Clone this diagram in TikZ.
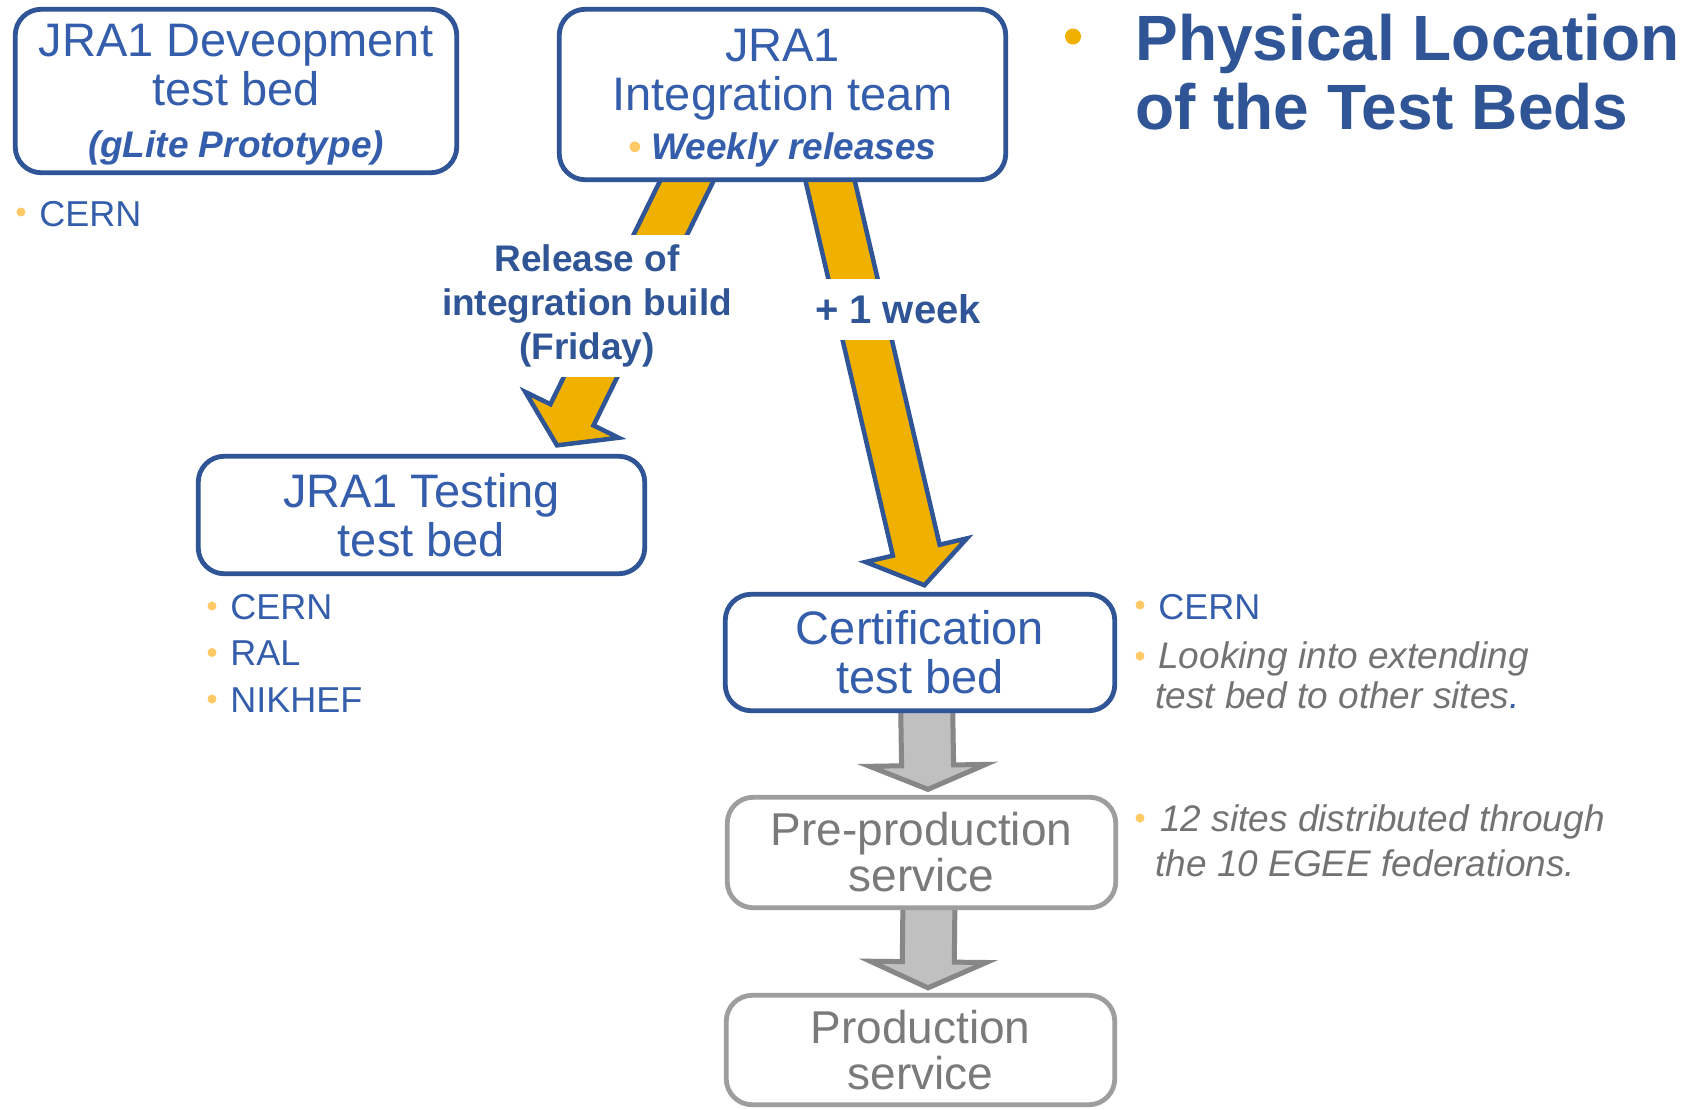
\documentclass[tikz,border=0pt]{standalone}
\usepackage{fontspec}
\setmainfont{Liberation Sans}
\usetikzlibrary{calc,backgrounds}

\definecolor{jraBlue}{RGB}{47,85,151}
\definecolor{jraText}{RGB}{52,94,172}
\definecolor{relOrange}{RGB}{240,176,0}
\definecolor{bulOrange}{RGB}{255,201,102}
\definecolor{svcGray}{RGB}{158,158,158}
\definecolor{svcText}{RGB}{122,122,122}
\definecolor{noteGray}{RGB}{115,115,115}
\definecolor{flowGray}{RGB}{135,135,135}
\definecolor{flowFill}{RGB}{192,192,192}

\newcommand\bul{{\color{bulOrange}\textbullet}\hspace{5pt}}
% block arrow: [style]{from}{tip}{shaft half width}{head half width}{head length}
\newcommand\blockarrow[6][]{%
\coordinate (headbase) at ($(#3)!#6!(#2)$);
\draw[#1] ($(#2)!#4!90:(#3)$) -- ($(headbase)!#4!-90:(#2)$) -- ($(headbase)!#5!-90:(#2)$) -- (#3)
  -- ($(headbase)!#5!90:(#2)$) -- ($(headbase)!#4!90:(#2)$) -- ($(#2)!#4!-90:(#3)$) -- cycle;
}

\tikzset{
bed/.style={draw=jraBlue,line width=2.4pt,rounded corners=13pt,fill=white,text=jraText,
  align=center,inner sep=0pt,font=\fontsize{23.5}{24.5}\selectfont},
svc/.style={bed,draw=svcGray,text=svcText,font=\fontsize{23}{23}\selectfont},
item/.style={anchor=base west,inner sep=0pt,text=jraText,font=\fontsize{18}{22}\selectfont},
note/.style={item,text=noteGray,font=\fontsize{18.5}{22}\selectfont\itshape},
tag/.style={fill=white,text=jraBlue,align=center,inner sep=0pt,
  font=\fontsize{18.5}{22}\selectfont\bfseries},
relarrow/.style={draw=jraBlue,fill=relOrange,line width=2.25pt,line join=miter},
flowarrow/.style={draw=flowGray,fill=flowFill,line width=2.5pt,line join=miter}
}

\begin{document}
\begin{tikzpicture}[x=0.5pt,y=-0.5pt]
\useasboundingbox(0,0)rectangle(1686,1109);
% title
\fill[relOrange](1073,36.5)circle[radius=8];
\node[anchor=base west,inner sep=0pt,align=left,text=jraBlue,
  font=\fontsize{32}{34.75}\selectfont\bfseries] (title) at (1135,129.5) {Physical Location\\of the Test Beds};
% test beds
\node[bed,minimum width=220.75pt,minimum height=81.75pt,text depth=0pt] (dev) at (236,91)
  {JRA1 Deveopment\\test bed\\[1.5pt]{\fontsize{18.5}{18.5}\selectfont\bfseries\itshape (gLite Prototype)}};
\node[bed,minimum width=223.25pt,minimum height=85.25pt,text depth=0pt] (integ) at (782.5,94.5)
  {JRA1\\Integration team\\{\fontsize{18.5}{18.5}\selectfont\bfseries\itshape\bul Weekly releases}};
\node[bed,minimum width=223.25pt,minimum height=58.75pt] (testing) at (421.5,515) {JRA1 Testing\\test bed};
\node[bed,minimum width=194.75pt,minimum height=58.25pt] (cert) at (920,652.5) {Certification\\test bed};
\node[svc,minimum width=194.25pt,minimum height=55.25pt] (preprod) at (921.5,852.5) {Pre-production\\service};
\node[svc,minimum width=194.25pt,minimum height=54.75pt] (prod) at (920.5,1050) {Production\\service};
% sites
\fill[bulOrange](21,212)circle[radius=4.5];
\node[item] (devsite) at (39,226) {CERN};
\foreach \site [count=\i] in {CERN,RAL,NIKHEF}{
  \fill[bulOrange](212,{606+46.5*(\i-1)})circle[radius=4.5];
  \node[item] (testsite\i) at (230,{619+46.5*(\i-1)}) {\site};
}
\fill[bulOrange](1140,605)circle[radius=4.5];
\node[item] (certsite) at (1158,619) {CERN};
\fill[bulOrange](1140,656)circle[radius=4.5];
\node[note] (certnote) at (1158,668) {Looking into extending};
\node[note] (certnotemore) at (1155,708) {test bed to other sites{\color{jraText}.}};
\fill[bulOrange](1140,818)circle[radius=4.5];
\node[note] (ppnote) at (1160,831) {12 sites distributed through};
\node[note] (ppnotemore) at (1155,876) {the 10 EGEE federations.};
% arrows
\coordinate (relA) at ($(integ.south)+(-88,-17)$);
\coordinate (relB) at ($(testing.north)+(135.5,-8.5)$);
\coordinate (wkA) at ($(integ.south)+(44,-17)$);
\coordinate (wkB) at ($(cert.north)+(4.4,-6.6)$);
\coordinate (ppA) at ($(cert.south)+(6.5,-15)$);
\coordinate (ppB) at ($(preprod.north)+(6.5,-5.5)$);
\coordinate (pdA) at ($(preprod.south)+(7.5,-15)$);
\coordinate (pdB) at ($(prod.north)+(7.5,-5)$);
\begin{scope}[on background layer]
\fill[white](0,0)rectangle(1686,1109);
\blockarrow[relarrow]{relA}{relB}{12pt}{26pt}{17pt}
\blockarrow[relarrow]{wkA}{wkB}{12pt}{26pt}{18pt}
\blockarrow[flowarrow]{ppA}{ppB}{13pt}{29pt}{12pt}
\blockarrow[flowarrow]{pdA}{pdB}{13pt}{29pt}{13pt}
\end{scope}
\node[tag,minimum width=150pt,minimum height=71pt] (reltag) at (587,306) {Release of\\integration build\\(Friday)};
\node[tag,minimum width=97pt,minimum height=30.5pt,font=\fontsize{20}{22}\selectfont\bfseries] (wktag) at (898,309.5) {+ 1 week};
\end{tikzpicture}
\end{document}
